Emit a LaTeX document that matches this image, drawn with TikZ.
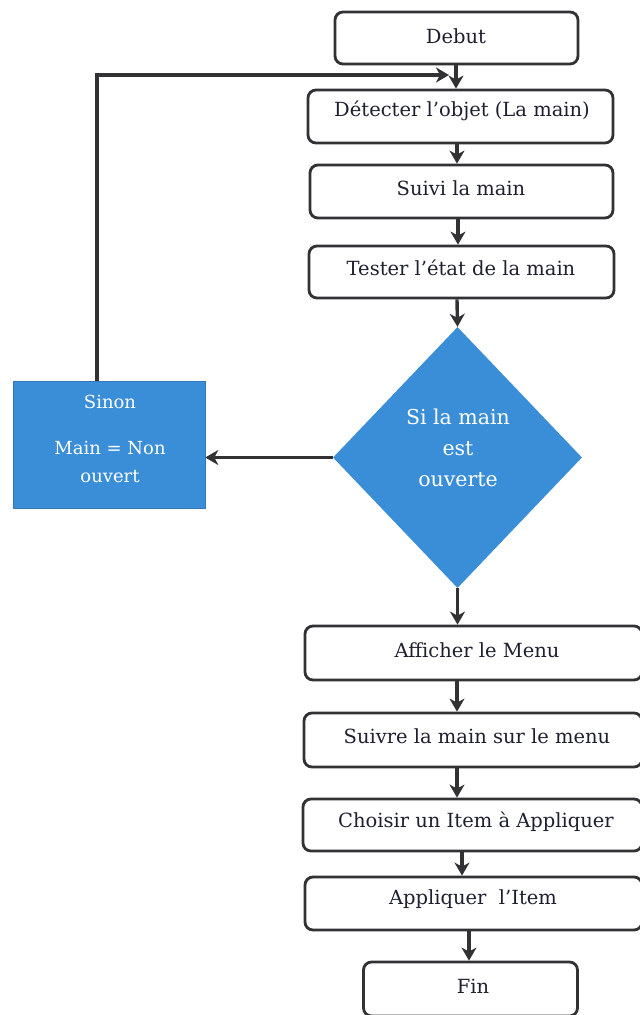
\documentclass[tikz,border=0pt]{standalone}
\usepackage{fontspec}
\setmainfont{DejaVu Serif}
\usetikzlibrary{shapes.geometric,arrows.meta}
\definecolor{fblue}{RGB}{58,142,216}
\definecolor{lnc}{RGB}{50,50,52}
\definecolor{txc}{RGB}{30,32,48}
\tikzset{
  stepbox/.style={draw=lnc,line width=2.8pt,rounded corners=8pt,inner sep=0pt},
  lbl/.style={text=txc,inner sep=0pt,font=\fontsize{19.5}{22}\selectfont},
  arr/.style={draw=lnc,line width=3.4pt,-{Stealth[length=13pt,width=15pt,inset=4pt]}},
}
\begin{document}
\begin{tikzpicture}[x=1pt,y=-1pt]
\clip (0,0) rectangle (640,1015);
\fill[white] (0,0) rectangle (640,1015);
% boxes
\node[stepbox,minimum width=243pt,minimum height=52pt] (debut) at (456.5,38) {};
\node[stepbox,minimum width=305pt,minimum height=53pt] (detect) at (460.5,116.5) {};
\node[stepbox,minimum width=303pt,minimum height=53pt] (suivi) at (461.5,191.5) {};
\node[stepbox,minimum width=305pt,minimum height=52pt] (tester) at (461.5,272) {};
\node[diamond,fill=fblue,inner sep=0pt,minimum width=249pt,minimum height=261pt] (dia) at (457.5,457.5) {};
\node[rectangle,fill=fblue,draw=fblue!85!black,line width=0.6pt,minimum width=192pt,minimum height=127pt,inner sep=0pt] (sinon) at (109,444.5) {};
\node[stepbox,minimum width=337pt,minimum height=54pt] (aff) at (473.5,653) {};
\node[stepbox,minimum width=338pt,minimum height=54pt] (suivre) at (473,740) {};
\node[stepbox,minimum width=339pt,minimum height=52pt] (choisir) at (472.5,825) {};
\node[stepbox,minimum width=337pt,minimum height=53pt] (appl) at (473.5,903.5) {};
\node[stepbox,minimum width=214pt,minimum height=54pt] (fin) at (470.5,989) {};
% labels
\node[lbl] (debutt) at (456,36) {Debut};
\node[lbl] (detectt) at (462,111) {Détecter l’objet (La main)};
\node[lbl] (suivit) at (461,188) {Suivi la main};
\node[lbl] (testert) at (461,268) {Tester l’état de la main};
\node[lbl] (afft) at (477,650) {Afficher le Menu};
\node[lbl] (suivret) at (477,736) {Suivre la main sur le menu};
\node[lbl] (choisirt) at (476,822) {Choisir un Item à Appliquer};
\node[lbl] (applt) at (473,899) {Appliquer~~l’Item};
\node[lbl] (fint) at (473,986) {Fin};
\node[text=white,inner sep=0pt,align=center,font=\fontsize{20.5}{31}\selectfont] (diat) at (458,448) {Si la main\\est\\ouverte};
\node[text=white,inner sep=0pt,font=\fontsize{18}{20}\selectfont] (sinont1) at (110,402) {Sinon};
\node[text=white,inner sep=0pt,align=center,font=\fontsize{18}{28}\selectfont] (sinont2) at (110,462) {Main = Non\\ouvert};
% connectors
\draw[arr] (456,0 |- debut.south) -- (456,0 |- detect.north);
\draw[arr] (457,0 |- detect.south) -- (457,0 |- suivi.north);
\draw[arr] (458,0 |- suivi.south) -- (458,0 |- tester.north);
\draw[arr] (457,0 |- tester.south) -- (dia.north);
\draw[arr] (dia.west) -- (dia.west -| sinon.east);
\coordinate (lp) at (97,75);
\coordinate (le) at (449,75);
\draw[arr] (sinon.north -| lp) -- (lp) -- (le);
\draw[arr] (dia.south) -- (aff.north -| dia.south);
\draw[arr] (457,0 |- aff.south) -- (457,0 |- suivre.north);
\draw[arr] (457,0 |- suivre.south) -- (457,0 |- choisir.north);
\draw[arr] (462,0 |- choisir.south) -- (462,0 |- appl.north);
\draw[arr] (469,0 |- appl.south) -- (469,0 |- fin.north);
\end{tikzpicture}
\end{document}
